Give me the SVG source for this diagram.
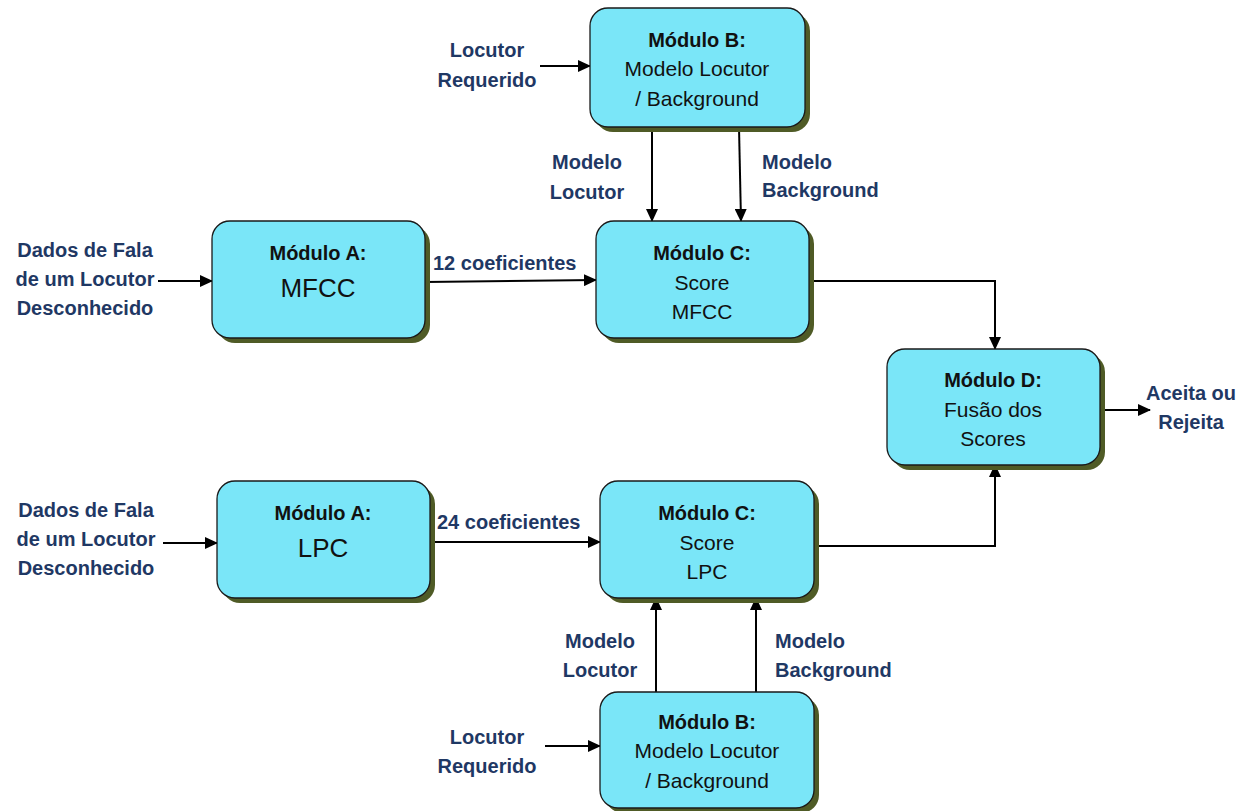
<svg xmlns="http://www.w3.org/2000/svg" width="1259" height="811" viewBox="0 0 1259 811">
<defs>
<marker id="ah" markerWidth="13" markerHeight="12" refX="12" refY="6" orient="auto" markerUnits="userSpaceOnUse">
<path d="M0,0 L13,6 L0,12 z" fill="#000"/>
</marker>
<style>
.sh{fill:#4f5b26}
.bx{fill:#7ae6f8;stroke:#1a1a1a;stroke-width:1.3}
.t{font-family:"Liberation Sans",Arial,sans-serif;font-size:21px;fill:#111;text-anchor:middle}
.tb{font-weight:bold;font-size:20px}
.big{font-size:26px}
.lb{font-family:"Liberation Sans",Arial,sans-serif;font-size:20px;font-weight:bold;fill:#1f3864}
.c{text-anchor:middle}
.ln{stroke:#000;stroke-width:2;fill:none}
</style>
</defs>
<rect width="1259" height="811" fill="#fff"/>

<g id="connectors">
<line class="ln" x1="540" y1="66" x2="590" y2="66" marker-end="url(#ah)"/>
<line class="ln" x1="652" y1="127" x2="652" y2="221" marker-end="url(#ah)"/>
<line class="ln" x1="739" y1="127" x2="741" y2="221" marker-end="url(#ah)"/>
<line class="ln" x1="158" y1="281" x2="212" y2="281" marker-end="url(#ah)"/>
<line class="ln" x1="425" y1="282" x2="596" y2="280" marker-end="url(#ah)"/>
<polyline class="ln" points="809,281 995,281 995,349" marker-end="url(#ah)"/>
<line class="ln" x1="1100" y1="410" x2="1150" y2="410" marker-end="url(#ah)"/>
<line class="ln" x1="163" y1="543" x2="217" y2="543" marker-end="url(#ah)"/>
<line class="ln" x1="430" y1="542" x2="600" y2="542" marker-end="url(#ah)"/>
<polyline class="ln" points="814,546 995,546 995,465" marker-end="url(#ah)"/>
<line class="ln" x1="656" y1="692" x2="656" y2="598" marker-end="url(#ah)"/>
<line class="ln" x1="756" y1="692" x2="756" y2="598" marker-end="url(#ah)"/>
<line class="ln" x1="545" y1="746" x2="600" y2="746" marker-end="url(#ah)"/>
</g>

<g id="labels">
<text class="lb c" x="487" y="57">Locutor</text>
<text class="lb c" x="487" y="87">Requerido</text>
<text class="lb c" x="587" y="169">Modelo</text>
<text class="lb c" x="587" y="199">Locutor</text>
<text class="lb" x="762" y="169">Modelo</text>
<text class="lb" x="762" y="197">Background</text>
<text class="lb c" x="85" y="257">Dados de Fala</text>
<text class="lb c" x="85" y="286">de um Locutor</text>
<text class="lb c" x="85" y="315">Desconhecido</text>
<text class="lb" x="433" y="270">12 coeficientes</text>
<text class="lb c" x="1191" y="400">Aceita ou</text>
<text class="lb c" x="1191" y="429">Rejeita</text>
<text class="lb c" x="86" y="517">Dados de Fala</text>
<text class="lb c" x="86" y="546">de um Locutor</text>
<text class="lb c" x="86" y="575">Desconhecido</text>
<text class="lb" x="437" y="529">24 coeficientes</text>
<text class="lb c" x="600" y="648">Modelo</text>
<text class="lb c" x="600" y="677">Locutor</text>
<text class="lb" x="775" y="648">Modelo</text>
<text class="lb" x="775" y="677">Background</text>
<text class="lb c" x="487" y="744">Locutor</text>
<text class="lb c" x="487" y="773">Requerido</text>
</g>

<g id="moduloB-top">
<rect class="sh" x="595" y="13" width="215" height="119" rx="18"/>
<rect class="bx" x="590" y="8" width="215" height="119" rx="18"/>
<text class="t tb" x="697" y="47">Módulo B:</text>
<text class="t" x="697" y="76">Modelo Locutor</text>
<text class="t" x="697" y="106">/ Background</text>
</g>

<g id="moduloA-mfcc">
<rect class="sh" x="217" y="226" width="213" height="117" rx="18"/>
<rect class="bx" x="212" y="221" width="213" height="117" rx="18"/>
<text class="t tb" x="318" y="260">Módulo A:</text>
<text class="t big" x="318" y="297">MFCC</text>
</g>

<g id="moduloC-mfcc">
<rect class="sh" x="601" y="226" width="213" height="117" rx="18"/>
<rect class="bx" x="596" y="221" width="213" height="117" rx="18"/>
<text class="t tb" x="702" y="260">Módulo C:</text>
<text class="t" x="702" y="290">Score</text>
<text class="t" x="702" y="319">MFCC</text>
</g>

<g id="moduloD">
<rect class="sh" x="892" y="354" width="213" height="116" rx="18"/>
<rect class="bx" x="887" y="349" width="213" height="116" rx="18"/>
<text class="t tb" x="993" y="387">Módulo D:</text>
<text class="t" x="993" y="417">Fusão dos</text>
<text class="t" x="993" y="446">Scores</text>
</g>

<g id="moduloA-lpc">
<rect class="sh" x="222" y="486" width="213" height="117" rx="18"/>
<rect class="bx" x="217" y="481" width="213" height="117" rx="18"/>
<text class="t tb" x="323" y="520">Módulo A:</text>
<text class="t big" x="323" y="557">LPC</text>
</g>

<g id="moduloC-lpc">
<rect class="sh" x="605" y="486" width="214" height="117" rx="18"/>
<rect class="bx" x="600" y="481" width="214" height="117" rx="18"/>
<text class="t tb" x="707" y="520">Módulo C:</text>
<text class="t" x="707" y="550">Score</text>
<text class="t" x="707" y="579">LPC</text>
</g>

<g id="moduloB-bottom">
<rect class="sh" x="605" y="697" width="214" height="116" rx="18"/>
<rect class="bx" x="600" y="692" width="214" height="116" rx="18"/>
<text class="t tb" x="707" y="729">Módulo B:</text>
<text class="t" x="707" y="758">Modelo Locutor</text>
<text class="t" x="707" y="788">/ Background</text>
</g>
</svg>
